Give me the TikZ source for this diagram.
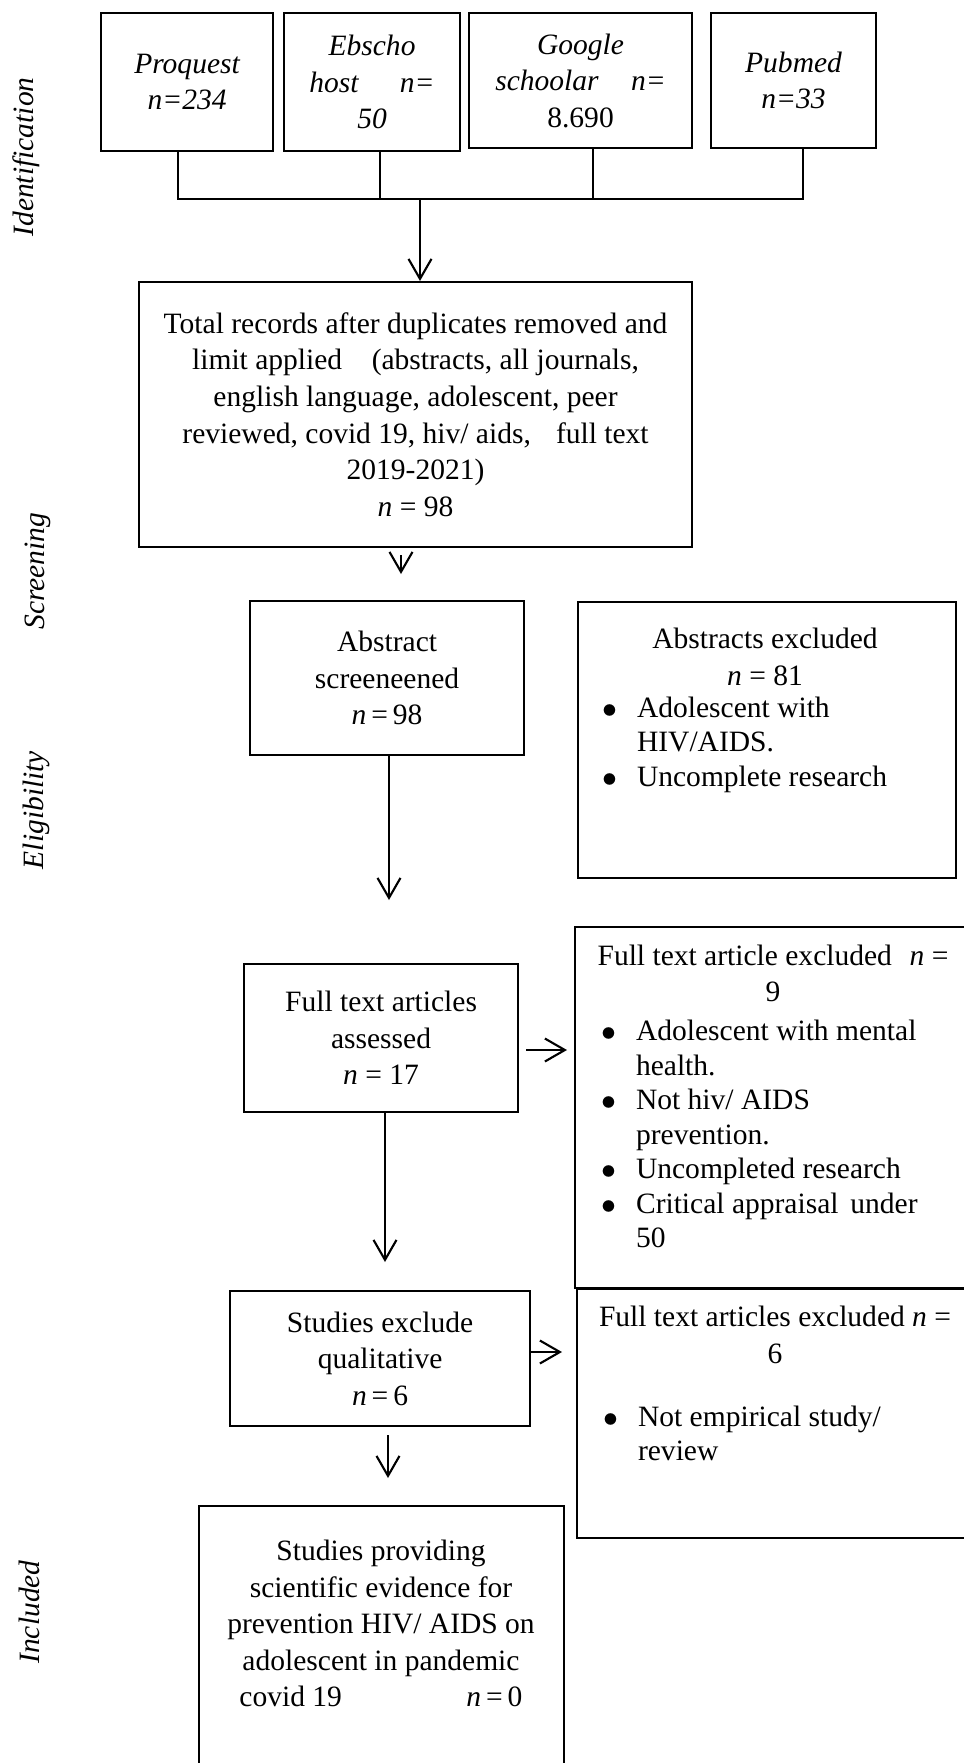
\documentclass[tikz,border=0pt]{standalone}
\usepackage{fontspec}
\setmainfont{Liberation Serif}
\usetikzlibrary{arrows.meta}
\newcommand{\bul}{\makebox[0.35cm][l]{$\bullet$}}
\newcommand{\bsp}{\makebox[0.35cm]{}}

\begin{document}
\begin{tikzpicture}[line width=0.6pt,
	every node/.style={font=\fontsize{8.4}{10.4}\selectfont},
	box/.style={draw, anchor=north west, inner sep=0pt, align=center},
	txt/.style={inner sep=0pt, align=center},
	lst/.style={inner sep=0pt, align=left, anchor=west, font=\fontsize{8.4}{9.8}\selectfont},
	lbl/.style={inner sep=0pt, rotate=90, font=\fontsize{8.4}{10.4}\selectfont\itshape},
	arr/.style={-{Straight Barb[length=2mm,width=2.3mm]}}]
		\useasboundingbox (0,0) rectangle (9.64,-17.63);
		\node[lbl] (idn) at (0.26,-1.57) {Identification};
		\node[lbl] (scr) at (0.38,-5.71) {Screening};
		\node[lbl] (elg) at (0.36,-8.10) {Eligibility};
		\node[lbl] (inc) at (0.29,-16.12) {Included};
		\node[box, minimum width=1.72cm, minimum height=1.38cm, font=\fontsize{8.4}{10.4}\selectfont\itshape] (proq) at (1.00,-0.12) {Proquest\\n=234};
		\node[box, minimum width=1.76cm, minimum height=1.38cm, font=\fontsize{8.4}{10.4}\selectfont\itshape] (ebsc) at (2.83,-0.12) {Ebscho\\host\hspace{1.4em}n=\\50};
		\node[box, minimum width=2.23cm, minimum height=1.35cm, font=\fontsize{8.4}{10.4}\selectfont\itshape] (goog) at (4.68,-0.12) {Google\\schoolar\hspace{1.1em}n=\\\upshape 8.690};
		\node[box, minimum width=1.65cm, minimum height=1.35cm, font=\fontsize{8.4}{10.4}\selectfont\itshape] (pubm) at (7.10,-0.12) {Pubmed\\n=33};
		\coordinate (hub) at (4.20,-1.99);
		\draw (proq.south -| 1.78,0) |- (hub);
		\draw (ebsc.south -| 3.80,0) |- (hub);
		\draw (goog.south -| 5.93,0) |- (hub);
		\draw (pubm.south -| 8.03,0) |- (hub);
		\node[box, minimum width=5.53cm, minimum height=2.65cm] (total) at (1.38,-2.81) {Total records after duplicates removed and\\limit applied\hspace{1em}(abstracts, all journals,\\english language, adolescent, peer\\reviewed, covid 19, hiv/ aids,\hspace{0.85em}full text\\2019-2021)\\\textit{n} = 98};
		\draw[arr] (hub) -- (total.north -| hub);
		\node[box, minimum width=2.74cm, minimum height=1.54cm] (abs) at (2.49,-6.00) {Abstract\\screeneened\\\textit{n}\,=\,98};
		\node[box, minimum width=3.78cm, minimum height=2.76cm] (aexc) at (5.77,-6.01) {};
		\node[txt] (aexct) at (7.65,-6.57) {Abstracts excluded\\\textit{n} = 81};
		\node[lst] (aexcl) at (6.01,-7.445) {\bul Adolescent with\\\bsp HIV/AIDS.\\\bul Uncomplete research};
		\node[box, minimum width=2.74cm, minimum height=1.48cm] (full) at (2.43,-9.63) {Full text articles\\assessed\\\textit{n} = 17};
		\node[box, minimum width=4.10cm, minimum height=3.61cm] (exc1) at (5.74,-9.26) {};
		\node[txt] (exc1t) at (7.73,-9.735) {Full text article excluded\hspace{0.6em}\textit{n} =\\9};
		\node[lst] (exc1l) at (6.00,-11.34) {\bul Adolescent with mental\\\bsp health.\\\bul Not hiv/ AIDS\\\bsp prevention.\\\bul Uncompleted research\\\bul Critical appraisal\hspace{0.4em}under\\\bsp 50};
		\node[box, minimum width=3.00cm, minimum height=1.35cm] (stud) at (2.29,-12.90) {Studies exclude\\qualitative\\\textit{n}\,=\,6};
		\node[box, minimum width=4.10cm, minimum height=2.49cm] (exc2) at (5.76,-12.88) {};
		\node[txt] (exc2t) at (7.75,-13.35) {Full text articles excluded \textit{n} =\\6};
		\node[lst] (exc2l) at (6.02,-14.335) {\bul Not empirical study/\\\bsp review};
		\node[box, minimum width=3.65cm, minimum height=2.75cm] (fin) at (1.98,-15.05) {};
		\node[txt] (fint) at (3.81,-16.235) {Studies providing\\scientific evidence for\\prevention HIV/ AIDS on\\adolescent in pandemic\\\makebox[2.83cm]{covid 19\hfill\textit{n}\,=\,0}};
		\draw[arr, shorten <=0.07cm, shorten >=0.26cm] (total.south -| 4.01,0) -- (abs.north -| 4.01,0);
		\draw[arr, shorten >=0.63cm] (abs.south -| 3.89,0) -- (full.north -| 3.89,0);
		\draw[arr, shorten <=0.07cm, shorten >=0.07cm] (full.east |- 0,-10.50) -- (exc1.west |- 0,-10.50);
		\draw[arr, shorten >=0.28cm] (full.south -| 3.85,0) -- (stud.north -| 3.85,0);
		\draw[arr, shorten >=0.14cm] (stud.east |- 0,-13.52) -- (exc2.west |- 0,-13.52);
		\draw[arr, shorten <=0.08cm, shorten >=0.27cm] (stud.south -| 3.88,0) -- (fin.north -| 3.88,0);
\end{tikzpicture}
\end{document}
